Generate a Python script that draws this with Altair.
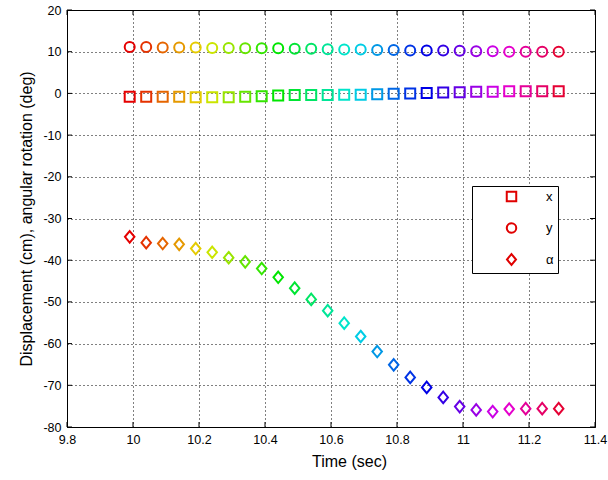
import colorsys
import altair as alt
import pandas as pd

# Sample times (s)
time = [9.99, 10.04, 10.09, 10.14, 10.19, 10.24, 10.29, 10.34, 10.39, 10.44,
        10.49, 10.54, 10.59, 10.64, 10.69, 10.74, 10.79, 10.84, 10.89, 10.94,
        10.99, 11.04, 11.09, 11.14, 11.19, 11.24, 11.29]

# Horizontal displacement x (cm)
disp_x = [-0.8, -0.8, -0.8, -0.8, -0.9, -0.9, -0.9, -0.8, -0.7, -0.5,
          -0.4, -0.4, -0.4, -0.3, -0.3, -0.2, -0.1, 0.0, 0.1, 0.2,
          0.3, 0.4, 0.4, 0.5, 0.5, 0.5, 0.5]

# Vertical displacement y (cm)
disp_y = [11.1, 11.1, 11.0, 11.0, 11.0, 10.9, 10.9, 10.8, 10.8, 10.8,
          10.7, 10.7, 10.6, 10.5, 10.5, 10.4, 10.4, 10.3, 10.3, 10.3,
          10.2, 10.1, 10.1, 10.0, 10.0, 10.0, 10.0]

# Angular rotation alpha (deg)
alpha = [-34.4, -35.8, -36.0, -36.2, -37.2, -38.1, -39.4, -40.4, -42.0, -44.1,
         -46.7, -49.4, -52.1, -55.1, -58.3, -61.9, -65.1, -68.1, -70.5, -72.9,
         -75.1, -75.9, -76.3, -75.7, -75.6, -75.6, -75.6]

series_names = ["x", "y", "\u03b1"]
x_ticks = [9.8, 10.0, 10.2, 10.4, 10.6, 10.8, 11.0, 11.2, 11.4]
y_ticks = [20, 10, 0, -10, -20, -30, -40, -50, -60, -70, -80]

W, H = 528, 417

# hsv-style colour per sample index
n = len(time)
hsv_colors = []
for i in range(n):
    r, g, b = colorsys.hsv_to_rgb(i / n, 1.0, 0.9)
    hsv_colors.append("#%02x%02x%02x" % (int(r * 255), int(g * 255), int(b * 255)))

rows = []
for name, vals in zip(series_names, [disp_x, disp_y, alpha]):
    for i, (t, v) in enumerate(zip(time, vals)):
        rows.append({"series": name, "time": t, "value": v, "idx": i})
df = pd.DataFrame(rows)

diamond = "M0,-1.15L0.95,0L0,1.15L-0.95,0Z"

xscale = alt.Scale(domain=[9.8, 11.4], nice=False, zero=False)
yscale = alt.Scale(domain=[-80, 20], nice=False, zero=False)

common_axis = dict(grid=True, gridColor="black", gridDash=[1, 3], gridOpacity=1,
                   gridWidth=1, ticks=False, domain=False,
                   labelExpr="datum.value + ''",
                   labelFont="Liberation Sans", labelFontSize=12.5, labelColor="black",
                   labelPadding=6, labelFlush=False,
                   titleFont="Liberation Sans", titleFontSize=16, titleFontWeight="normal",
                   titleColor="black")

points = alt.Chart(df).mark_point(filled=False, strokeWidth=2, opacity=1, size=100).encode(
    x=alt.X("time:Q", scale=xscale,
            axis=alt.Axis(values=x_ticks, title="Time (sec)", titlePadding=8,
                          titleX=W / 2 + 18, **common_axis)),
    y=alt.Y("value:Q", scale=yscale,
            axis=alt.Axis(values=y_ticks, title="Displacement (cm), angular rotation (deg)",
                          titlePadding=8, **common_axis)),
    color=alt.Color("idx:O", scale=alt.Scale(domain=list(range(n)), range=hsv_colors),
                    legend=None),
    shape=alt.Shape("series:N",
                    scale=alt.Scale(domain=series_names, range=["square", "circle", diamond]),
                    legend=alt.Legend(title=None, orient="none", legendX=405, legendY=176,
                                      padding=4, strokeColor="black", fillColor="white",
                                      symbolOffset=29, symbolSize=90, symbolStrokeWidth=2,
                                      symbolStrokeColor="#e00000", symbolFillColor="transparent",
                                      labelOffset=28, labelFontSize=13,
                                      labelFont="Liberation Sans", labelColor="black",
                                      labelExpr="datum.label + '\u00a0\u00a0\u00a0\u00a0\u00a0\u00a0'",
                                      rowPadding=12.5)),
)

# Inward tick marks on all four sides of the box
xt = pd.DataFrame({"t": x_ticks})
yt = pd.DataFrame({"v": y_ticks})
tick_style = dict(color="black", strokeWidth=1)
bottom_ticks = alt.Chart(xt).mark_rule(**tick_style).encode(
    x=alt.X("t:Q", scale=xscale), y=alt.value(H), y2=alt.value(H - 5))
top_ticks = alt.Chart(xt).mark_rule(**tick_style).encode(
    x=alt.X("t:Q", scale=xscale), y=alt.value(0), y2=alt.value(5))
left_ticks = alt.Chart(yt).mark_rule(**tick_style).encode(
    y=alt.Y("v:Q", scale=yscale), x=alt.value(0), x2=alt.value(5))
right_ticks = alt.Chart(yt).mark_rule(**tick_style).encode(
    y=alt.Y("v:Q", scale=yscale), x=alt.value(W), x2=alt.value(W - 5))

chart = alt.layer(bottom_ticks, top_ticks, left_ticks, right_ticks, points).properties(
    width=W, height=H,
    autosize=alt.AutoSizeParams(type="none"),
    padding={"left": 67, "top": 10, "right": 13, "bottom": 53},
    background="white",
).configure_view(stroke="black", strokeWidth=1)

chart.save("out.html", embed_options={"renderer": "svg", "actions": False})
